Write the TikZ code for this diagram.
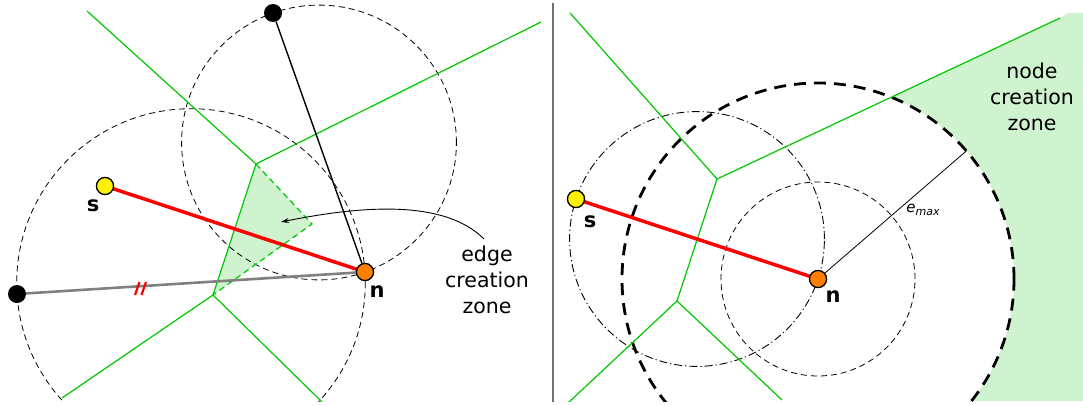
\documentclass[tikz,border=0pt]{standalone}
\usepackage{fontspec}
\setmainfont{DejaVu Sans}
\usetikzlibrary{arrows.meta}
\definecolor{vgreen}{RGB}{0,200,0}
\definecolor{zonefill}{RGB}{206,243,206}
\definecolor{dotorange}{RGB}{255,128,0}
\definecolor{divgray}{RGB}{112,112,112}
\tikzset{
  vor/.style={draw=vgreen,line width=1.2pt},
  vordash/.style={draw=vgreen,line width=1.2pt,dash pattern=on 6pt off 4pt},
  thindash/.style={draw=black,line width=0.8pt,dash pattern=on 6pt off 4pt},
  dashdot/.style={draw=black,line width=0.9pt,dash pattern=on 8pt off 3pt on 1.2pt off 3pt},
  thickdash/.style={draw=black,line width=2.8pt,dash pattern=on 12pt off 8pt},
  blackdot/.style={circle,fill=black,inner sep=0pt,minimum size=18pt},
  ydot/.style={circle,draw=black,line width=1.2pt,fill=yellow,inner sep=0pt,minimum size=17pt},
  odot/.style={circle,draw=black,line width=1.2pt,fill=dotorange,inner sep=0pt,minimum size=17pt},
  redge/.style={draw=red,line width=3.5pt},
  lbl/.style={font=\fontsize{21}{21}\selectfont\bfseries,inner sep=0pt},
  zonetxt/.style={font=\fontsize{20.5}{26}\selectfont,align=center,inner sep=0pt},
}
\begin{document}
\begin{tikzpicture}[x=1pt,y=1pt]
\useasboundingbox (0,0) rectangle (1083,405);
\clip (0,4) rectangle (1083,405);
% ---------- left panel ----------
\coordinate (V1) at (256,241);
\coordinate (V2) at (213,110);
\coordinate (V3) at (312,181);
\coordinate (G1) at (87,394);
\coordinate (G2) at (541,383);
\coordinate (G3) at (62,7);
\coordinate (G4) at (322,3);
\fill[zonefill] (V1) -- (V3) -- (V2) -- cycle;
\draw[thindash] (191,122) circle[radius=174.3];
\draw[thindash] (319,262.5) circle[radius=137.4];
\draw[vor] (G1) -- (V1) -- (G2);
\draw[vor] (V1) -- (V2);
\draw[vor] (G3) -- (V2) -- (G4);
\draw[vordash] (V1) -- (V3) -- (V2);
\node[blackdot] (T) at (273,392) {};
\node[blackdot] (L) at (17,111) {};
\node[ydot] (s) at (105,219) {};
\node[odot] (n) at (365,133) {};
\draw[black,line width=1.4pt] (T) -- (n);
\draw[gray,line width=2.6pt] (L) -- (n);
\draw[redge] (s) -- (n);
\node[ydot] at (s) {};
\node[odot] at (n) {};
\draw[red,line width=2.2pt] (135,110) -- (139.5,123);
\draw[red,line width=2.2pt] (141.5,110) -- (146,123);
\node[lbl] (sl) at (93,199) {s};
\node[lbl] (nl) at (377,113) {n};
\node[zonetxt] (ez) at (487,125) {edge\\creation\\zone};
\coordinate (ezs) at (484,166);
\coordinate (eze) at (281,183);
\draw[black,line width=0.9pt,-{Stealth[length=8pt,width=5pt]}] (ezs) .. controls (445,205) and (365,200) .. (eze);
% ---------- divider ----------
\coordinate (D1) at (553,3);
\coordinate (D2) at (553,402);
\draw[divgray,line width=1.6pt] (D1) -- (D2);
% ---------- right panel ----------
\coordinate (W1) at (717,226);
\coordinate (W2) at (677,104);
\coordinate (H1) at (570,392);
\coordinate (H2) at (1060,387);
\coordinate (H3) at (568,2);
\coordinate (H4) at (782,5);
\fill[zonefill] (891.3,307.8) -- (H2) -- (1068,392) -- (1083,392) -- (1083,4) -- (971.5,4)
  arc[start angle=-38.5,end angle=68.0,radius=196] -- cycle;
\draw[dashdot] (697,166) circle[radius=127.4];
\draw[thindash] (818,126) circle[radius=97];
\draw[thickdash] (818,126) circle[radius=196];
\draw[vor] (H1) -- (W1) -- (H2);
\draw[vor] (W1) -- (W2);
\draw[vor] (H3) -- (W2) -- (H4);
\node[ydot] (s2) at (576,206) {};
\node[odot] (n2) at (818,126) {};
\coordinate (E) at (966.4,254.1);
\draw[redge] (s2) -- (n2);
\draw[black,line width=0.8pt] (n2) -- (E);
\node[ydot] at (s2) {};
\node[odot] at (n2) {};
\node[lbl] (s2l) at (590,183) {s};
\node[lbl] (n2l) at (833,108) {n};
\node[inner sep=0pt] (em) at (923,195) {\fontsize{15}{15}\selectfont\itshape e\raisebox{-3.5pt}{\fontsize{11}{11}\selectfont\itshape max}};
\node[zonetxt] (nz) at (1032,308) {node\\creation\\zone};
\end{tikzpicture}
\end{document}
